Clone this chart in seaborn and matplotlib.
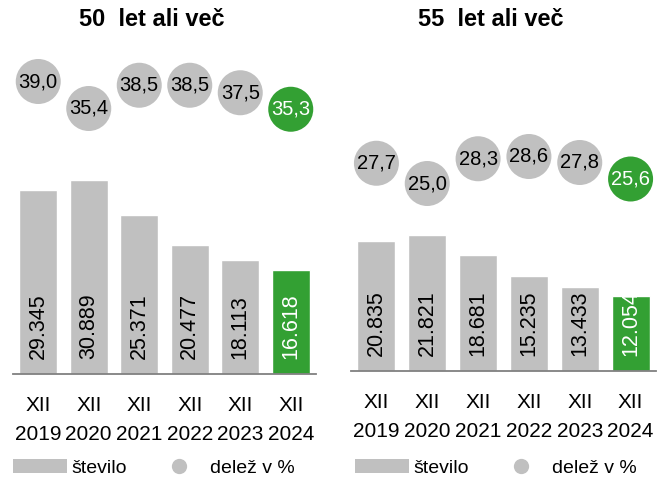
import numpy as np
import matplotlib
matplotlib.use("Agg")
import matplotlib.pyplot as plt
import seaborn as sns
from matplotlib.patches import Patch
from matplotlib.lines import Line2D

# Data
years = ['2019', '2020', '2021', '2022', '2023', '2024']
tick_labels = ['XII\n' + y for y in years]
stevilo_50 = [29345, 30889, 25371, 20477, 18113, 16618]
delez_50 = [39.0, 35.4, 38.5, 38.5, 37.5, 35.3]
stevilo_55 = [20835, 21821, 18681, 15235, 13433, 12054]
delez_55 = [27.7, 25.0, 28.3, 28.6, 27.8, 25.6]
titles = ['50  let ali več', '55  let ali več']

GRAY = '#c0c0c0'
GREEN = '#33a033'
colors = [GRAY] * 5 + [GREEN]
text_colors = ['black'] * 5 + ['white']

sns.set_style('white')
plt.rcParams['font.family'] = ['Liberation Sans', 'DejaVu Sans']
plt.rcParams['text.color'] = 'black'
plt.rcParams['xtick.color'] = 'black'

W, H = 667, 484
fig = plt.figure(figsize=(W / 100, H / 100), dpi=100)

# panel layout in pixels: left edge, width, baseline (from top), px per 1000 people
panels = [
    dict(x0=13, w=303, base=374, kscale=6.28, title_x=152, legend_x=13),
    dict(x0=351, w=305, base=371, kscale=6.23, title_x=491, legend_x=355),
]
top = 40
pct_scale = 7.5  # px per percentage point

for p, counts, shares, title in zip(panels, [stevilo_50, stevilo_55],
                                     [delez_50, delez_55], titles):
    h = p['base'] - top
    ax = fig.add_axes([p['x0'] / W, (H - p['base']) / H, p['w'] / W, h / H])

    sns.barplot(x=tick_labels, y=counts, hue=tick_labels, palette=colors,
                legend=False, width=0.75, saturation=1, ax=ax)
    ax.set_xlim(-0.5, 5.5)
    ax.set_ylim(0, h / p['kscale'] * 1000)

    # vertical count labels near the bottom of each bar
    for i, v in enumerate(counts):
        ax.annotate(f"{v:,}".replace(',', '.'), (i, 0), xytext=(0, 11),
                    textcoords='offset points', rotation=90, ha='center',
                    va='bottom', fontsize=15.5, color=text_colors[i])

    ax.set_xlabel('')
    ax.set_ylabel('')
    ax.set_yticks([])
    ax.tick_params(axis='x', length=0, pad=16, labelsize=15)
    for lbl in ax.get_xticklabels():
        lbl.set_linespacing(1.65)
    for s in ['left', 'right', 'top']:
        ax.spines[s].set_visible(False)
    ax.spines['bottom'].set_color('#808080')
    ax.spines['bottom'].set_linewidth(1.3)

    # percentage circles on a second scale
    ax2 = ax.twinx()
    xs = np.arange(len(shares))
    sns.scatterplot(x=xs, y=shares, hue=xs, palette=colors, legend=False,
                    s=1050, edgecolor='none', ax=ax2)
    ax2.set_ylim(0, h / pct_scale)
    for i, v in enumerate(shares):
        ax2.text(i, v, f"{v:.1f}".replace('.', ','), ha='center', va='center',
                 fontsize=14.5, color=text_colors[i])
    ax2.set_yticks([])
    ax2.set_ylabel('')
    for s in ax2.spines.values():
        s.set_visible(False)

    fig.text(p['title_x'] / W, (H - 20) / H, title, ha='center', va='center',
             fontsize=17, fontweight='bold')

    handles = [Patch(facecolor=GRAY, edgecolor='none', label='število'),
               Line2D([], [], marker='o', linestyle='none', markersize=11,
                      markerfacecolor=GRAY, markeredgecolor='none',
                      label='delež v %')]
    ax2.legend(handles=handles, loc='center left', ncol=2, frameon=False,
               fontsize=14, handlelength=2.8, handletextpad=0.2,
               columnspacing=1.3, borderpad=0, borderaxespad=0,
               bbox_to_anchor=(p['legend_x'] / W, (H - 468) / H),
               bbox_transform=fig.transFigure)

fig.savefig('out.png', dpi=100)
